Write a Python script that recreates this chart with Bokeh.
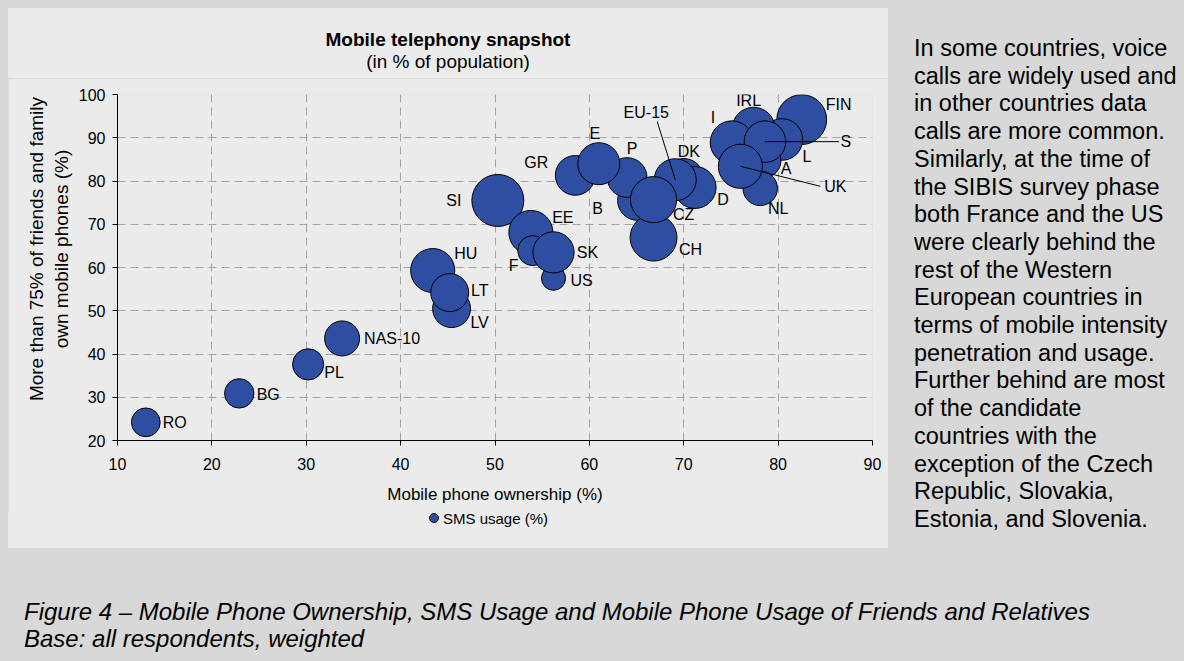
import numpy as np
from bokeh.plotting import figure
from bokeh.models import ColumnDataSource, FixedTicker, Div, Spacer
from bokeh.layouts import column, row
from bokeh.embed import file_html
from bokeh.resources import INLINE
from bokeh.core.properties import value

# ---------------- data (drawing order) ----------------
countries = ["RO", "BG", "PL", "NAS-10", "HU", "LV", "LT", "SI", "EE", "F", "US", "SK",
             "GR", "B", "P", "E", "CH", "DK", "D", "EU-15", "CZ",
             "FIN", "L", "IRL", "I", "A", "NL", "S", "UK"]
ownership = [13.0, 22.9, 30.2, 33.8, 43.4, 45.4, 45.2, 50.3, 53.8, 54.0, 56.2, 56.2,
             58.5, 65.1, 64.0, 61.0, 66.8, 70.0, 71.2, 69.1, 66.8,
             82.5, 80.4, 77.4, 75.1, 78.5, 78.1, 78.6, 76.0]
friends_family = [24.2, 30.9, 37.6, 43.6, 59.3, 50.5, 54.2, 75.5, 68.1, 63.9, 57.5, 63.5,
                  81.3, 75.5, 80.8, 84.0, 66.9, 80.6, 78.5, 80.3, 75.7,
                  94.2, 89.6, 92.1, 88.9, 84.7, 78.3, 89.1, 83.4]
sms_usage = [23, 24, 27, 34, 54, 40, 40, 75, 54, 25, 16, 47,
             44, 44, 44, 49, 61, 44, 49, 49, 59,
             69, 48, 51, 52, 32, 33, 48, 54]

x_ticks = [10, 20, 30, 40, 50, 60, 70, 80, 90]
y_ticks = [20, 30, 40, 50, 60, 70, 80, 90, 100]

title_text = "Mobile telephony snapshot"
subtitle_text = "(in % of population)"
x_label = "Mobile phone ownership (%)"
y_label_lines = ["More than 75% of friends and family", "own mobile phones (%)"]
legend_label = "SMS usage (%)"

# label placement (pixel offsets: right / down)
label_offsets = {
    "RO": (29, 0), "BG": (29, 1), "PL": (26, 8), "NAS-10": (50, 0), "HU": (33, -17),
    "LV": (28, 14), "LT": (30, -2), "SI": (-44, 0), "EE": (32, -15), "F": (-19, 15),
    "US": (28, 2), "SK": (34, 0), "GR": (-39, -13), "B": (-40, 8), "P": (5, -29),
    "E": (-4, -30), "CH": (37, 12), "DK": (5, -27), "D": (28, 12), "EU-15": (-29, -67),
    "CZ": (30, 15), "FIN": (37, -15), "L": (25, 17), "IRL": (-5, -28), "I": (-19, -25),
    "A": (22, 8), "NL": (18, 20), "S": (81, 0), "UK": (95, 20)}
leader_ends = {"S": (74, 0), "UK": (80, 20), "EU-15": (-18, -58)}

FONT = "Liberation Sans"
BLUE = "#2d4ea1"
PANEL = "#ebebeb"
OUTER = "#d8d8d8"

# ---------------- geometry ----------------
PW = 880                      # panel width
TITLE_H, LEG_H = 70, 36
H = 548 - 8 - TITLE_H - LEG_H  # figure height
ML, MR, MT = 109, 16, 94 - 8 - TITLE_H
MB = H - MT - (440 - 94)
FW, FH = PW - ML - MR, H - MT - MB
XR, YR = (10, 90), (20, 100)
px_x = (XR[1] - XR[0]) / FW
px_y = (YR[1] - YR[0]) / FH

p = figure(width=PW, height=H, x_range=XR, y_range=YR, output_backend="svg",
           toolbar_location=None, min_border_left=ML, min_border_right=MR,
           min_border_top=MT, min_border_bottom=MB,
           background_fill_color=PANEL, border_fill_color=PANEL)
p.outline_line_color = None

for ax, ticks in ((p.xaxis[0], x_ticks), (p.yaxis[0], y_ticks)):
    ax.ticker = FixedTicker(ticks=ticks)
    ax.axis_line_color = "black"
    ax.major_tick_line_color = "black"
    ax.major_tick_in = 0
    ax.major_tick_out = 5
    ax.minor_tick_line_color = None
    ax.major_label_text_font = FONT
    ax.major_label_text_font_size = "16px"
    ax.major_label_text_color = "black"
    ax.axis_label_text_font = FONT
    ax.axis_label_text_font_style = "normal"
    ax.axis_label_text_color = "black"

p.xaxis.axis_label = x_label
p.xaxis.axis_label_text_font_size = "17px"
pad = "\u00a0" * 7
p.yaxis.axis_label = "\n".join(pad + s for s in y_label_lines)
p.yaxis.axis_label_text_font_size = "19px"
p.xaxis.major_label_standoff = 12
p.xaxis.axis_label_standoff = 12
p.yaxis.major_label_standoff = 7
p.yaxis.axis_label_standoff = 4

for g in (p.xgrid[0], p.ygrid[0]):
    g.grid_line_color = "#a3a3a3"
    g.grid_line_dash = "8 5"
    g.grid_line_width = 1

# leader lines
lx0, ly0, lx1, ly1 = [], [], [], []
for c, (dx, dy) in leader_ends.items():
    i = countries.index(c)
    lx0.append(ownership[i]); ly0.append(friends_family[i])
    lx1.append(ownership[i] + dx * px_x); ly1.append(friends_family[i] - dy * px_y)

src = ColumnDataSource(dict(
    x=ownership, y=friends_family, sms=sms_usage, name=countries,
    size=[6.0 * np.sqrt(v) for v in sms_usage],
    dx=[label_offsets[c][0] for c in countries],
    dy=[label_offsets[c][1] for c in countries]))

p.scatter(x="x", y="y", size="size", source=src, fill_color=BLUE,
          line_color="black", line_width=1)
p.segment(x0=lx0, y0=ly0, x1=lx1, y1=ly1, line_color="black", line_width=1)
p.text(x="x", y="y", text="name", x_offset="dx", y_offset="dy", source=src,
       text_align="center", text_baseline="middle", text_font=value(FONT),
       text_font_size="16px", text_color="black")

FF = f"font-family:'{FONT}',Arial,sans-serif;color:#000;"

title_div = Div(text=(
    f'<div style="{FF}width:{PW}px;text-align:center;padding-top:21px;">'
    f'<div style="font-size:19px;font-weight:bold;line-height:22px;">{title_text}</div>'
    f'<div style="font-size:19px;line-height:22px;">{subtitle_text}</div></div>'),
    width=PW, height=TITLE_H, margin=0, styles={"background-color": PANEL})

legend_div = Div(text=(
    f'<div style="{FF}position:relative;width:{PW}px;height:{LEG_H}px;">'
    f'<span style="position:absolute;left:{429 - 8}px;top:1px;width:10px;height:10px;'
    f'border-radius:50%;border:1px solid #000;background:{BLUE};"></span>'
    f'<span style="position:absolute;left:{443 - 8}px;top:-1px;font-size:15px;'
    f'line-height:16px;white-space:nowrap;">{legend_label}</span></div>'),
    width=PW, height=LEG_H, margin=0, styles={"background-color": PANEL})

panel = column(title_div, p, legend_div, spacing=0)

# ---------------- side texts ----------------
body_lines = ["In some countries, voice", "calls are widely used and",
              "in other countries data", "calls are more common.",
              "Similarly, at the time of", "the SIBIS survey phase",
              "both France and the US", "were clearly behind the",
              "rest of the Western", "European countries in",
              "terms of mobile intensity", "penetration and usage.",
              "Further behind are most", "of the candidate",
              "countries with the", "exception of the Czech",
              "Republic, Slovakia,", "Estonia, and Slovenia."]
caption_lines = ["Figure 4 \u2013 Mobile Phone Ownership, SMS Usage and Mobile Phone Usage of Friends and Relatives",
                 "Base: all respondents, weighted"]

text_div = Div(text=(
    f'<div style="{FF}font-size:23.5px;line-height:27.7px;'
    f'padding:35px 0 0 26px;white-space:nowrap;">'
    + "<br>".join(body_lines) + "</div>"),
    width=1184 - 8 - PW, height=548, margin=0)

cap_div = Div(text=(
    f'<div style="{FF}font-size:24px;font-style:italic;line-height:27px;'
    f'padding:50px 0 0 24px;white-space:nowrap;">'
    + "<br>".join(caption_lines) + "</div>"),
    width=1184, height=661 - 548, margin=0)

left = column(Spacer(height=8, width=8 + PW, margin=0),
              row(Spacer(width=8, height=548 - 8, margin=0), panel, spacing=0),
              spacing=0)
root = column(row(left, text_div, spacing=0), cap_div, width=1184, height=661,
              spacing=0, styles={"background-color": OUTER})

open("out.html", "w").write(file_html(root, INLINE))
